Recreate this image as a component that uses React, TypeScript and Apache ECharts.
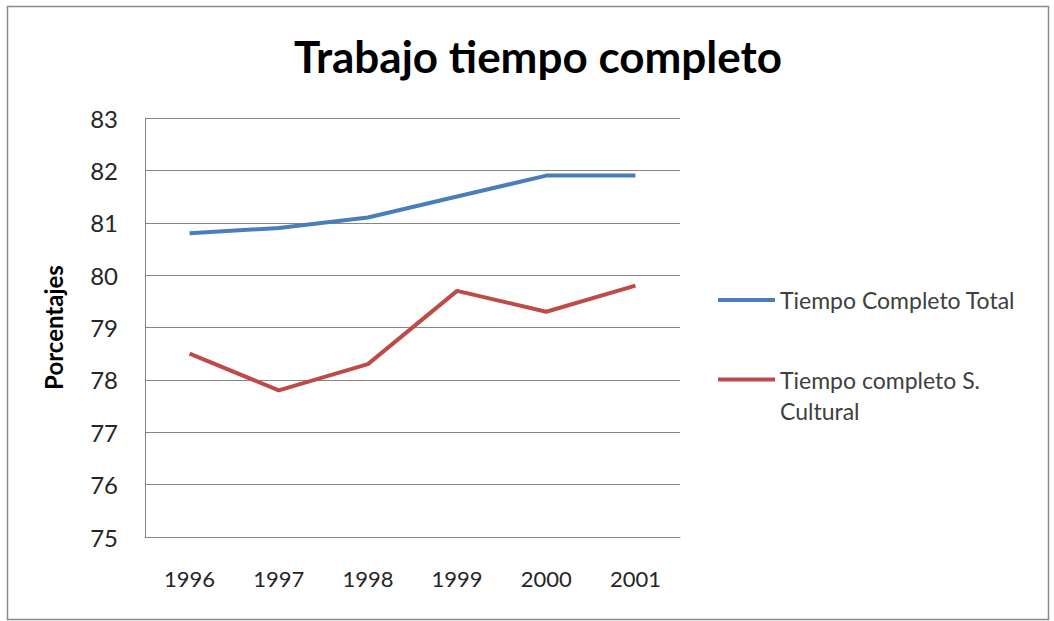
import React, { useEffect, useRef } from "react";
import * as echarts from "echarts";

const years = ["1996", "1997", "1998", "1999", "2000", "2001"];
const totalName = "Tiempo Completo Total";
const culturalName = "Tiempo completo S. Cultural";
const totalValues = [80.8, 80.9, 81.1, 81.5, 81.9, 81.9];
const culturalValues = [78.5, 77.8, 78.3, 79.7, 79.3, 79.8];
const yMin = 75;
const yMax = 83;

const FONT = "Lato, 'Open Sans', sans-serif";

export default function App() {
  const ref = useRef<HTMLDivElement>(null);
  useEffect(() => {
    if (!ref.current) return;
    const chart = echarts.init(ref.current, undefined, { renderer: "svg" });
    chart.setOption({
      animation: false,
      backgroundColor: "#ffffff",
      title: {
        text: "Trabajo tiempo completo",
        left: 533,
        textAlign: "center",
        top: 29,
        textStyle: { fontFamily: FONT, fontSize: 44, fontWeight: "bold", color: "#000000" },
      },
      graphic: [
        {
          type: "rect",
          shape: { x: 7.5, y: 6.5, width: 1041, height: 613 },
          style: { fill: "none", stroke: "#8a8a8a", lineWidth: 1.5 },
          silent: true,
        },
      ],
      legend: [
        {
          data: [totalName],
          left: 718,
          top: 285,
          padding: 0,
          icon: "rect",
          itemWidth: 57,
          itemHeight: 4,
          textStyle: { fontFamily: FONT, fontSize: 23, lineHeight: 30, color: "#404040" },
        },
        {
          data: [culturalName],
          left: 718,
          top: 333,
          padding: 0,
          icon: "rect",
          itemWidth: 57,
          itemHeight: 4,
          formatter: () => " \nTiempo completo S.\nCultural",
          textStyle: {
            fontFamily: FONT,
            fontSize: 23,
            lineHeight: 31,
            color: "#404040",
          },
        },
      ],
      grid: { left: 145, top: 118, width: 535, height: 419, containLabel: false },
      xAxis: {
        type: "category",
        data: years,
        boundaryGap: true,
        axisLine: { show: true, lineStyle: { color: "#868686", width: 1 } },
        axisTick: { show: false },
        axisLabel: { fontFamily: FONT, fontSize: 22, color: "#262626", margin: 30 },
      },
      yAxis: {
        type: "value",
        min: yMin,
        max: yMax,
        interval: 1,
        name: "Porcentajes",
        nameLocation: "middle",
        nameGap: 80,
        nameRotate: 90,
        nameTextStyle: { fontFamily: FONT, fontSize: 24, fontWeight: "bold", color: "#000000" },
        axisLine: { show: true, lineStyle: { color: "#868686", width: 1 } },
        axisTick: { show: false },
        splitLine: { show: true, lineStyle: { color: "#868686", width: 1 } },
        axisLabel: { fontFamily: FONT, fontSize: 24, color: "#262626", margin: 27 },
      },
      series: [
        {
          name: totalName,
          type: "line",
          data: totalValues,
          symbol: "none",
          lineStyle: { color: "#4a7ebb", width: 4 },
          itemStyle: { color: "#4a7ebb" },
        },
        {
          name: culturalName,
          type: "line",
          data: culturalValues,
          symbol: "none",
          lineStyle: { color: "#be4b48", width: 4 },
          itemStyle: { color: "#be4b48" },
        },
      ],
    });
    return () => chart.dispose();
  }, []);
  return (
    <div
      ref={ref}
      style={{ position: "fixed", left: 0, top: 0, width: 1054, height: 621 }}
    />
  );
}
